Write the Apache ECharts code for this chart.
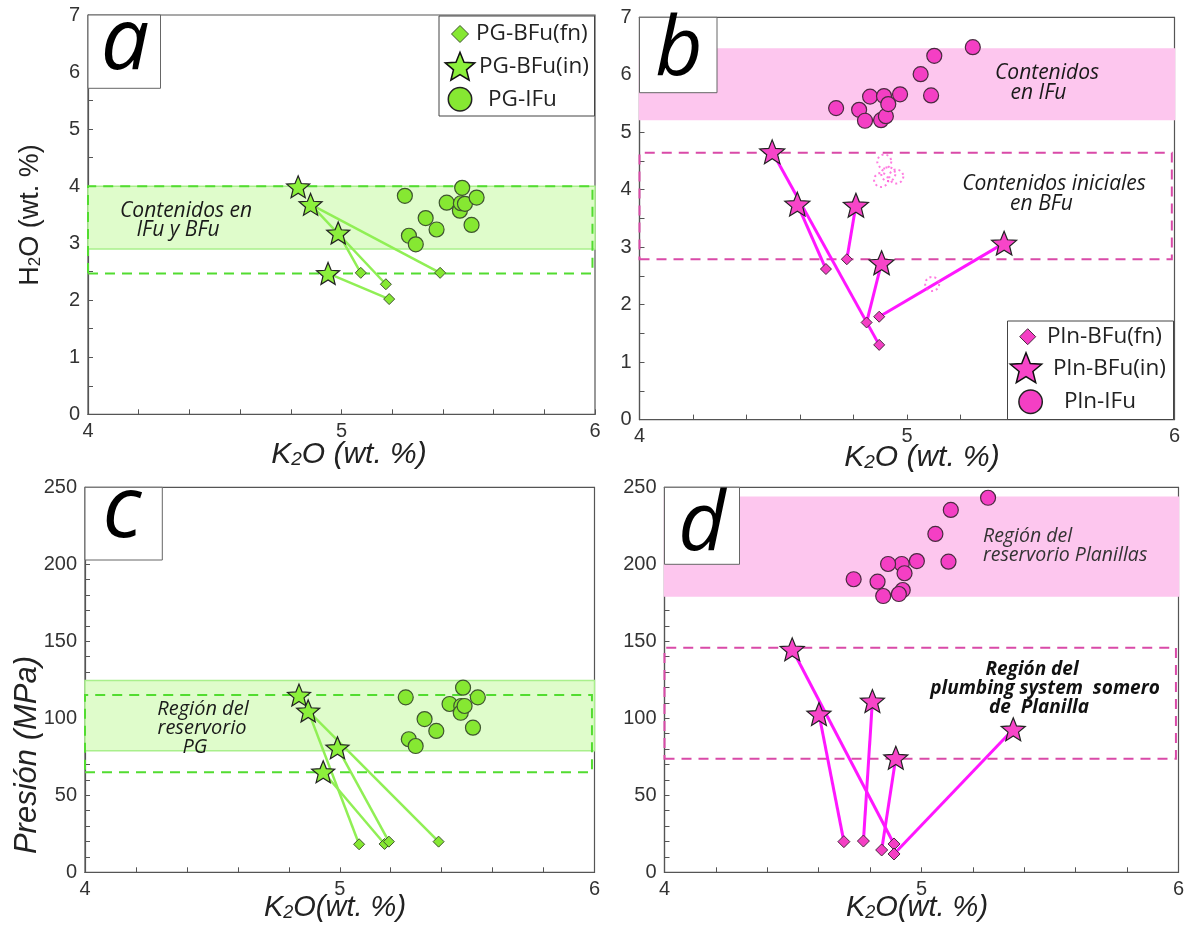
<!DOCTYPE html>
<html><head><meta charset="utf-8">
<script src="https://cdn.jsdelivr.net/npm/echarts@6/dist/echarts.min.js"></script>
<style>html,body{margin:0;padding:0;background:#fff}#c{width:1184px;height:926px}</style>
</head><body><div id="c"></div><script>
// ---------- DATA ----------
const xTicks = [4, 5, 6];
// Panel a : H2O vs K2O (Paso Grande)
const aFnK = [5.076, 5.175, 5.188, 5.389];
const aFnH = [2.48, 2.28, 2.02, 2.48];
const aInK = [4.829, 4.878, 4.987, 4.947];
const aInH = [3.99, 3.68, 3.18, 2.47];
const aIfuK = [5.250, 5.266, 5.293, 5.332, 5.375, 5.415, 5.476, 5.467, 5.471, 5.487, 5.533, 5.513];
const aIfuH = [3.83, 3.13, 2.98, 3.44, 3.24, 3.71, 3.97, 3.57, 3.70, 3.69, 3.80, 3.32];
const aLinks = [[1, 1], [2, 0], [1, 3], [3, 2]];      // [initial index, final index]
const aBand = [2.9, 4.0];
const aDashed = [2.47, 4.0];
// Panel b : H2O vs K2O (Planillas)
const bFnK = [4.697, 4.775, 4.849, 4.896, 4.896];
const bFnH = [2.62, 2.79, 1.69, 1.79, 1.30];
const bInK = [4.496, 4.590, 4.809, 4.905, 5.363];
const bInH = [4.66, 3.75, 3.73, 2.73, 3.07];
const bIfuK = [4.735, 4.821, 4.843, 4.862, 4.903, 4.914, 4.921, 4.930, 4.974, 5.051, 5.090, 5.102, 5.246];
const bIfuH = [5.42, 5.39, 5.20, 5.62, 5.21, 5.63, 5.28, 5.49, 5.66, 6.01, 5.64, 6.33, 6.48];
const bDotK = [4.915, 4.903, 4.930, 4.960, 5.094];
const bDotH = [4.49, 4.17, 4.27, 4.23, 2.36];
const bLinks = [[0, 4], [1, 0], [2, 1], [3, 2], [4, 3]];
const bBand = [5.22, 6.45];
const bDashed = [2.79, 4.645];
// Panel c : Pressure vs K2O (Paso Grande)
const cFnK = [5.076, 5.176, 5.193, 5.388];
const cFnP = [18.2, 18.4, 19.9, 19.9];
const cInK = [4.840, 4.876, 4.991, 4.935];
const cInP = [115.1, 104.8, 80.9, 65.3];
const cIfuK = [5.259, 5.271, 5.298, 5.333, 5.379, 5.431, 5.484, 5.477, 5.475, 5.490, 5.542, 5.523];
const cIfuP = [113.6, 86.4, 82.0, 99.5, 91.8, 109.3, 119.9, 108.0, 103.6, 108.0, 113.6, 93.9];
const cLinks = [[1, 0], [3, 1], [2, 2], [1, 3]];
const cBand = [79.0, 124.5];
const cDashed = [64.9, 115.1];
// Panel d : Pressure vs K2O (Planillas)
const dFnK = [4.698, 4.774, 4.845, 4.893, 4.893];
const dFnP = [19.9, 20.3, 14.5, 18.4, 11.9];
const dInK = [4.497, 4.601, 4.809, 4.900, 5.357];
const dInP = [144.8, 102.8, 111.2, 74.4, 92.9];
const dIfuK = [5.259, 5.114, 5.054, 5.105, 4.982, 4.923, 4.870, 4.934, 4.927, 4.912, 4.851, 4.829, 4.736];
const dIfuP = [243.2, 235.3, 219.7, 201.7, 202.1, 200.2, 200.2, 194.2, 183.3, 180.7, 179.4, 188.7, 190.3];
const dLinks = [[0, 3], [1, 0], [2, 1], [3, 2], [4, 4]];
const dBand = [179.4, 243.5];
const dDashed = [73.8, 145.8];

const legendPG = ['PG-BFu(fn)', 'PG-BFu(in)', 'PG-IFu'];
const legendPln = ['Pln-BFu(fn)', 'Pln-BFu(in)', 'Pln-IFu'];

// ---------- STYLE ----------
const STAR_D = 'M50,0 L62.93,32.2 L97.55,34.55 L70.92,56.8 L79.39,90.45 L50,72 L20.61,90.45 L29.08,56.8 L2.45,34.55 L37.07,32.2 Z';
const STAR = 'path://' + STAR_D;
function starPoints(cx, cy, R) {
  const pts = [];
  for (let k = 0; k < 10; k++) {
    const r = k % 2 === 0 ? R : R * 0.44;
    const ang = (-90 + k * 36) * Math.PI / 180;
    pts.push([cx + r * Math.cos(ang), cy + r * Math.sin(ang)]);
  }
  return pts;
}
const G = {fill: '#86e832', star: '#8cf03c', line: '#90ef55', band: '#dffccb', bandBorder: '#a9ef8c', dash: '#52dc30', border: '#3f5530'};
const P = {fill: '#f43fc4', star: '#f745c8', line: '#ff17ff', band: '#fdc6ee', bandBorder: '#fdc6ee', dash: '#d94aa8', border: '#4a2a40'};
const AX = '#555';
const TXT = 'Open Sans';

const grids = [
  {left: 88, top: 15, width: 507, height: 399.3},
  {left: 639.5, top: 17.3, width: 535, height: 402.3},
  {left: 85, top: 487.3, width: 509.5, height: 385},
  {left: 664.5, top: 487.3, width: 514, height: 385}
].map(g => Object.assign({show: true, borderColor: AX, borderWidth: 1.2, backgroundColor: 'transparent', containLabel: false, outerBoundsMode: 'none'}, g));

function xAxis(gi) {
  return {type: 'value', gridIndex: gi, min: xTicks[0], max: xTicks[xTicks.length - 1], interval: 1,
    axisLine: {show: true, onZero: false, lineStyle: {color: AX, width: 1.2}},
    axisTick: {show: true, inside: true, length: 5, lineStyle: {color: AX}},
    minorTick: {show: true, splitNumber: 5, length: 5, lineStyle: {color: AX}},
    splitLine: {show: false}, minorSplitLine: {show: false},
    axisLabel: {color: '#333', fontSize: 20, fontFamily: 'Liberation Sans', margin: 7}};
}
function yAxis(gi, max, interval, minor) {
  return {type: 'value', gridIndex: gi, min: 0, max: max, interval: interval,
    axisLine: {show: true, onZero: false, lineStyle: {color: AX, width: 1.2}},
    axisTick: {show: true, inside: true, length: 5, lineStyle: {color: AX}},
    minorTick: {show: true, splitNumber: minor, length: 5, lineStyle: {color: AX}},
    splitLine: {show: false}, minorSplitLine: {show: false},
    axisLabel: {color: '#333', fontSize: 20, fontFamily: 'Liberation Sans', margin: 8}};
}

const pairs = (xs, ys) => xs.map((x, i) => [x, ys[i]]);

function regionSeries(gi, band, dashed, C) {
  return {type: 'scatter', xAxisIndex: gi, yAxisIndex: gi, z: 1, silent: true, symbolSize: 0, data: [],
    markArea: {silent: true, label: {show: false}, emphasis: {disabled: true},
      data: [
        [{xAxis: 4, yAxis: band[0], itemStyle: {color: C.band, borderColor: C.bandBorder, borderWidth: 1.5}}, {xAxis: 6, yAxis: band[1]}],
        [{xAxis: 4, yAxis: dashed[0], itemStyle: {color: 'rgba(0,0,0,0)', borderColor: C.dash, borderWidth: 2, borderType: [10, 7]}}, {xAxis: 5.99, yAxis: dashed[1]}]
      ]}};
}
function linkSeries(gi, links, inK, inY, fnK, fnY, C, w) {
  return {type: 'lines', coordinateSystem: 'cartesian2d', xAxisIndex: gi, yAxisIndex: gi, z: 2, silent: true,
    lineStyle: {color: C.line, width: w, opacity: 1},
    data: links.map(([s, f]) => ({coords: [[inK[s], inY[s]], [fnK[f], fnY[f]]]}))};
}
function scat(gi, name, xs, ys, symbol, size, fill, border, bw, z) {
  return {type: 'scatter', name: name, xAxisIndex: gi, yAxisIndex: gi, z: z, silent: true,
    symbol: symbol, symbolSize: size, symbolKeepAspect: true,
    itemStyle: {color: fill, borderColor: border, borderWidth: bw, opacity: 1},
    data: pairs(xs, ys)};
}

const series = [
  regionSeries(0, aBand, aDashed, G),
  linkSeries(0, aLinks, aInK, aInH, aFnK, aFnH, G, 2.5),
  scat(0, legendPG[2], aIfuK, aIfuH, 'circle', 15, G.fill, G.border, 1.2, 3),
  scat(0, legendPG[0], aFnK, aFnH, 'diamond', 11, G.fill, G.border, 1, 3),
  scat(0, legendPG[1], aInK, aInH, STAR, 23, G.star, '#222', 1.2, 4),

  regionSeries(1, bBand, bDashed, P),
  linkSeries(1, bLinks, bInK, bInH, bFnK, bFnH, P, 3),
  {type: 'scatter', xAxisIndex: 1, yAxisIndex: 1, z: 3, silent: true, symbol: 'circle', symbolSize: 14,
    itemStyle: {color: 'rgba(0,0,0,0)', borderColor: '#ff5ad8', borderWidth: 2, borderType: [2, 3]}, data: pairs(bDotK, bDotH)},
  scat(1, legendPln[2], bIfuK, bIfuH, 'circle', 15, P.fill, P.border, 1.2, 3),
  scat(1, legendPln[0], bFnK, bFnH, 'diamond', 11, P.fill, P.border, 1, 3),
  scat(1, legendPln[1], bInK, bInH, STAR, 25, P.star, '#222', 1.2, 4),

  regionSeries(2, cBand, cDashed, G),
  linkSeries(2, cLinks, cInK, cInP, cFnK, cFnP, G, 2.5),
  scat(2, legendPG[2], cIfuK, cIfuP, 'circle', 15, G.fill, G.border, 1.2, 3),
  scat(2, legendPG[0], cFnK, cFnP, 'diamond', 11, G.fill, G.border, 1, 3),
  scat(2, legendPG[1], cInK, cInP, STAR, 23, G.star, '#222', 1.2, 4),

  regionSeries(3, dBand, dDashed, P),
  linkSeries(3, dLinks, dInK, dInP, dFnK, dFnP, P, 3),
  scat(3, legendPln[2], dIfuK, dIfuP, 'circle', 15, P.fill, P.border, 1.2, 3),
  scat(3, legendPln[0], dFnK, dFnP, 'diamond', 12, P.fill, P.border, 1, 3),
  scat(3, legendPln[1], dInK, dInP, STAR, 24, P.star, '#222', 1.2, 4)
];

// ---------- GRAPHIC (panel letters, legends, annotations, axis titles) ----------
const gfx = [];
function letterBox(x, y, w, h, ch, cx, cy, size) {
  gfx.push({type: 'rect', z: 100, shape: {x: x, y: y, width: w, height: h}, style: {fill: '#fff', stroke: '#666', lineWidth: 1}});
  gfx.push({type: 'text', z: 101, x: cx, y: cy, style: {text: ch, fontSize: size, fontStyle: 'italic', fontWeight: 500, fontFamily: TXT, fill: '#000', align: 'center', verticalAlign: 'middle'}});
}
letterBox(88, 15, 72.5, 73.3, 'a', 125, 44, 86);
letterBox(639.5, 17.3, 77.5, 75.4, 'b', 679, 52, 82);
letterBox(85, 487.3, 77.3, 72.7, 'c', 122, 512, 86);
letterBox(664.5, 487.3, 75, 77, 'd', 702, 527, 82);

function legendBox(x, y, w, h, names, C, items, fs) {
  gfx.push({type: 'rect', z: 100, shape: {x: x, y: y, width: w, height: h}, style: {fill: '#fff', stroke: '#444', lineWidth: 1}});
  const [dm, st, ci] = items;
  gfx.push({type: 'polygon', z: 101, shape: {points: [[dm[0], dm[1] - dm[2]], [dm[0] + dm[2], dm[1]], [dm[0], dm[1] + dm[2]], [dm[0] - dm[2], dm[1]]]}, style: {fill: C.fill, stroke: C.border, lineWidth: 1}});
  gfx.push({type: 'polygon', z: 101, shape: {points: starPoints(st[0], st[1] + 1, st[2])}, style: {fill: C.star, stroke: '#111', lineWidth: 1.5}});
  gfx.push({type: 'circle', z: 101, shape: {cx: ci[0], cy: ci[1], r: ci[2]}, style: {fill: C.fill, stroke: '#222', lineWidth: 1.5}});
  [dm, st, ci].forEach((it, i) => {
    gfx.push({type: 'text', z: 101, x: it[3], y: it[1], style: {text: names[i], fontSize: fs, fontFamily: TXT, fill: '#222', align: 'left', verticalAlign: 'middle'}});
  });
}
legendBox(439, 16, 155.5, 100, legendPG, G, [[460, 34, 8.5, 476], [460, 66.7, 15.5, 479], [460, 99.3, 11.7, 488]], 22.5);
legendBox(1007.5, 321, 166, 98.5, legendPln, P, [[1027.7, 336.7, 8, 1047], [1026, 368.3, 16.5, 1053], [1030.6, 401.7, 11.7, 1064]], 22.5);

function note(x, y, text, opts) {
  gfx.push({type: 'text', z: 50, x: x, y: y, style: Object.assign({text: text, fontSize: 21, fontStyle: 'italic', fontFamily: TXT, fill: '#1a1a1a', align: 'center', verticalAlign: 'middle'}, opts || {})});
}
// subtle lighter boxes behind the pink-band notes
gfx.push({type: 'rect', z: 0, silent: true, shape: {x: 985, y: 50, width: 150, height: 68}, style: {fill: 'rgba(255,255,255,0.18)'}});
gfx.push({type: 'rect', z: 0, silent: true, shape: {x: 975, y: 523, width: 180, height: 50}, style: {fill: 'rgba(255,255,255,0.18)'}});

note(186, 211, 'Contenidos en');
note(178, 230, 'IFu y BFu');
note(1047, 73.3, 'Contenidos');
note(1038.5, 92.7, 'en IFu');
note(1054, 184, 'Contenidos iniciales');
note(1041.5, 204, 'en BFu');
note(203, 709.3, 'Región del', {fontSize: 20});
note(202, 728.7, 'reservorio', {fontSize: 20});
note(195, 747.3, 'PG', {fontSize: 20});
note(983, 536, 'Región del', {align: 'left', fill: '#333', fontSize: 19.5});
note(983, 555, 'reservorio Planillas', {align: 'left', fill: '#333', fontSize: 19.5});
note(1032, 669.3, 'Región del', {fontWeight: 'bold', fontSize: 19, fill: '#111'});
note(1045, 688.7, 'plumbing system  somero', {fontWeight: 'bold', fontSize: 19, fill: '#111'});
note(1039, 707.3, 'de  Planilla', {fontWeight: 'bold', fontSize: 19, fill: '#111'});

function title(x, y, text, size, italic, rot) {
  gfx.push({type: 'text', z: 50, x: x, y: y, rotation: rot || 0, style: {text: text, fontSize: size, fontStyle: italic ? 'italic' : 'normal', fontFamily: 'Liberation Sans', fill: '#222', align: 'center', verticalAlign: 'middle',
    rich: {s: {fontSize: Math.round(size * 0.62), fontStyle: italic ? 'italic' : 'normal', fontFamily: 'Liberation Sans', fill: '#222', verticalAlign: 'bottom', padding: [0, 0, 1, 0]}}}});
}
title(349, 455, 'K{s|2}O (wt. %)', 30, true);
title(922, 458, 'K{s|2}O (wt. %)', 30, true);
title(335, 908, 'K{s|2}O(wt. %)', 29, true);
title(917, 908, 'K{s|2}O(wt. %)', 29, true);
title(31, 215, 'H{s|2}O (wt. %)', 27, false, Math.PI / 2);
title(27, 755, 'Presión (MPa)', 31, true, Math.PI / 2);

const chart = echarts.init(document.getElementById('c'), null, {renderer: 'canvas'});
chart.setOption({
  animation: false,
  backgroundColor: '#fff',
  grid: grids,
  xAxis: [xAxis(0), xAxis(1), xAxis(2), xAxis(3)],
  yAxis: [yAxis(0, 7, 1, 2), yAxis(1, 7, 1, 2), yAxis(2, 250, 50, 5), yAxis(3, 250, 50, 5)],
  series: series,
  graphic: gfx
});
</script></body></html>
